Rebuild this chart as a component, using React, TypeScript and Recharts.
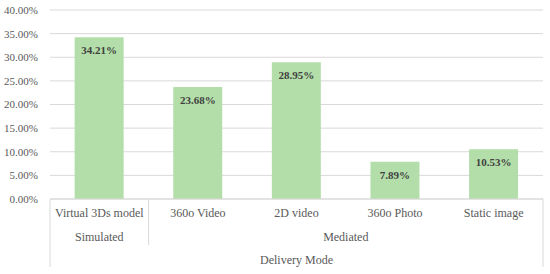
import { BarChart, Bar, XAxis, YAxis, CartesianGrid, LabelList } from 'recharts';

const CATEGORIES = ['Virtual 3Ds model', '360o Video', '2D video', '360o Photo', 'Static image'];
const SHARES = [0.3421, 0.2368, 0.2895, 0.0789, 0.1053];
const Y_TICKS = [0, 0.05, 0.1, 0.15, 0.2, 0.25, 0.3, 0.35, 0.4];
const GROUPS = [
  { name: 'Simulated', from: 0, to: 0 },
  { name: 'Mediated', from: 1, to: 4 },
];
const AXIS_TITLE = 'Delivery Mode';

const data = CATEGORIES.map((category, i) => ({ category, share: SHARES[i] }));

const CHART_W = 550;
const CHART_H = 274;
const MARGIN = { top: 10, right: 7, left: 0, bottom: 0 };
const Y_AXIS_W = 50;
const X_AXIS_H = 75;
const FONT = '"Liberation Serif", "DejaVu Serif", serif';
const TEXT = '#595959';
const LINE = '#d9d9d9';

const pct = (v: number) => `${(v * 100).toFixed(2)}%`;

const band = (CHART_W - MARGIN.left - MARGIN.right - Y_AXIS_W) / CATEGORIES.length;

// multi-level category axis: item label, group label, axis title, plus the table lines
function CategoryTick(props: any) {
  const { x, y, payload } = props;
  const i: number = payload.index;
  const left = x - band / 2;
  const right = x + band / 2;
  const group = GROUPS.find((g) => g.from === i);
  const groupEnd = GROUPS.find((g) => g.to === i);
  return (
    <g>
      <text x={x} y={y + 18} textAnchor="middle" fontSize={12} fill={TEXT} fontFamily={FONT}>
        {payload.value}
      </text>
      {group && (
        <text
          x={left + ((group.to - group.from + 1) * band) / 2}
          y={y + 42}
          textAnchor="middle"
          fontSize={12}
          fill={TEXT}
          fontFamily={FONT}
        >
          {group.name}
        </text>
      )}
      {i === 0 && (
        <>
          <line x1={left} x2={left} y1={y} y2={y + 68} stroke={LINE} />
          <text
            x={left + (CATEGORIES.length * band) / 2}
            y={y + 65}
            textAnchor="middle"
            fontSize={12}
            fill={TEXT}
            fontFamily={FONT}
          >
            {AXIS_TITLE}
          </text>
        </>
      )}
      {groupEnd && i < CATEGORIES.length - 1 && (
        <line x1={right} x2={right} y1={y} y2={y + 46} stroke={LINE} />
      )}
      {i === CATEGORIES.length - 1 && (
        <line x1={right} x2={right} y1={y} y2={y + 68} stroke={LINE} />
      )}
    </g>
  );
}

export default function App() {
  return (
    <>
      <style>{'body { margin: 0; }'}</style>
      <BarChart
        width={CHART_W}
        height={CHART_H}
        data={data}
        margin={MARGIN}
        barCategoryGap="25%"
        style={{ fontFamily: FONT }}
      >
        <CartesianGrid vertical={false} stroke={LINE} />
        <XAxis
          dataKey="category"
          height={X_AXIS_H}
          interval={0}
          tickLine={false}
          tickSize={0}
          tickMargin={0}
          axisLine={{ stroke: LINE }}
          tick={<CategoryTick />}
        />
        <YAxis
          width={Y_AXIS_W}
          domain={[0, 0.4]}
          ticks={Y_TICKS}
          tickFormatter={pct}
          axisLine={false}
          tickLine={false}
          tickMargin={6}
          tick={{ fontSize: 11, fill: TEXT, fontFamily: FONT }}
        />
        <Bar dataKey="share" fill="#b3dea9" isAnimationActive={false}>
          <LabelList
            dataKey="share"
            position="insideTop"
            offset={9}
            formatter={(v: any) => pct(Number(v))}
            style={{ fontSize: 11, fontWeight: 'bold', fill: '#404040', fontFamily: FONT }}
          />
        </Bar>
      </BarChart>
    </>
  );
}
